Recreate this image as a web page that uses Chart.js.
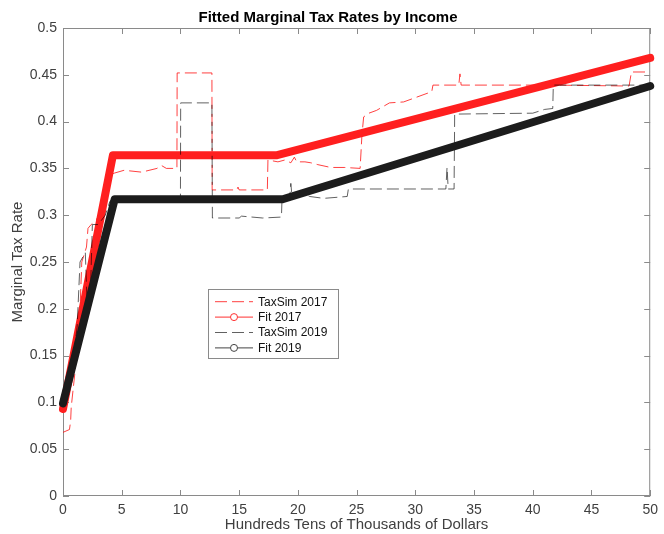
<!DOCTYPE html>
<html>
<head>
<meta charset="utf-8">
<script src="https://cdn.jsdelivr.net/npm/chart.js@4/dist/chart.umd.min.js"></script>
<style>
  html, body { margin: 0; padding: 0; background: #fff; }
  #wrap { width: 664px; height: 534px; position: relative; }
</style>
</head>
<body>
<div id="wrap"><canvas id="taxChart"></canvas></div>
<script>
// ── data ─────────────────────────────────────────────────────────────────────

var xTickValues = [0, 5, 10, 15, 20, 25, 30, 35, 40, 45, 50];
var xTickLabels = ["0", "5", "10", "15", "20", "25", "30", "35", "40", "45", "50"];
var yTickValues = [0, 0.05, 0.1, 0.15, 0.2, 0.25, 0.3, 0.35, 0.4, 0.45, 0.5];
var yTickLabels = ["0", "0.05", "0.1", "0.15", "0.2", "0.25", "0.3", "0.35", "0.4", "0.45", "0.5"];

var taxsim2017X = [0, 0.55, 0.65, 0.7, 1.0, 1.3, 1.45, 1.6, 2.0, 2.13, 2.4, 2.84, 3.26, 3.54, 3.82, 3.96, 4.38, 5.2,
                   6.7, 8.0, 8.4, 8.8, 9.7, 9.72, 12.68, 12.7, 14.8, 14.9, 15.0, 17.4, 17.45, 18.3, 18.9, 19.4,
                   19.7, 19.9, 20.6, 21.1, 21.7, 22.8, 24.0, 25.3, 25.45, 25.6, 26.05, 26.7, 27.8, 29.0, 31.4,
                   31.5, 33.7, 33.8, 33.9, 41.8, 48.2, 48.4, 50];
var taxsim2017Y = [0.068, 0.071, 0.08, 0.095, 0.13, 0.17, 0.2, 0.25, 0.266, 0.286, 0.29, 0.295, 0.306, 0.316, 0.334, 0.343, 0.345, 0.348,
                   0.346, 0.350, 0.353, 0.350, 0.350, 0.452, 0.452, 0.327, 0.327, 0.330, 0.327, 0.327, 0.359, 0.357, 0.359, 0.356,
                   0.362, 0.357, 0.357, 0.356, 0.354, 0.351, 0.351, 0.350, 0.385, 0.405, 0.409, 0.412, 0.420, 0.421, 0.432,
                   0.439, 0.439, 0.451, 0.439, 0.439, 0.438, 0.453, 0.453];

var fit2017X = [0, 4.25, 18.15, 50];
var fit2017Y = [0.093, 0.364, 0.364, 0.468];

var taxsim2019X = [0, 0.6, 1.2, 1.45, 1.9, 2.1, 2.3, 2.5, 3.0, 3.6, 4.0, 4.4, 10.0, 10.02, 12.68, 12.72, 15.0, 15.2,
                   17.0, 18.6, 18.65, 19.3, 19.4, 19.5, 20.5, 21.0, 22.2, 24.2, 24.3, 32.6, 32.7, 32.8, 33.3,
                   33.35, 40.0, 41.0, 41.7, 41.75, 50];
var taxsim2019Y = [0.1, 0.12, 0.18, 0.25, 0.26, 0.19, 0.2, 0.29, 0.29, 0.3, 0.315, 0.32, 0.32, 0.42, 0.42, 0.297, 0.297, 0.299,
                   0.297, 0.298, 0.318, 0.318, 0.334, 0.32, 0.323, 0.32, 0.318, 0.320, 0.328, 0.328, 0.351, 0.328, 0.328,
                   0.408, 0.409, 0.413, 0.414, 0.439, 0.439];

var fit2019X = [0, 4.4, 18.7, 50];
var fit2019Y = [0.099, 0.317, 0.317, 0.438];

// ── styles ───────────────────────────────────────────────────────────────────

var FONT = "'Liberation Sans', Arial, Helvetica, sans-serif";
var TEXT_COLOR = "#404040";
var AXIS_COLOR = "#8a8a8a";

function toPoints(xs, ys) {
  return xs.map(function(x, i) { return { x: x, y: ys[i] }; });
}

// 프레임 + 안쪽 눈금 (MATLAB box on)
var frameAndTicks = {
  id: "frameAndTicks",
  beforeDatasetsDraw: function(chart) {
    var a = chart.chartArea, ctx = chart.ctx;
    var sx = chart.scales.x, sy = chart.scales.y;
    var len = 6;
    ctx.save();
    ctx.strokeStyle = AXIS_COLOR;
    ctx.lineWidth = 1;
    ctx.strokeRect(a.left + 0.5, a.top + 0.5, a.right - a.left - 1, a.bottom - a.top - 1);
    ctx.beginPath();
    sx.ticks.forEach(function(t) {
      var px = Math.round(sx.getPixelForValue(t.value)) + 0.5;
      ctx.moveTo(px, a.bottom); ctx.lineTo(px, a.bottom - len);
      ctx.moveTo(px, a.top); ctx.lineTo(px, a.top + len);
    });
    sy.ticks.forEach(function(t) {
      var py = Math.round(sy.getPixelForValue(t.value)) + 0.5;
      ctx.moveTo(a.left, py); ctx.lineTo(a.left + len, py);
      ctx.moveTo(a.right, py); ctx.lineTo(a.right - len, py);
    });
    ctx.stroke();
    ctx.restore();
  },
};

// 범례 (plot 안쪽 박스)
var boxLegend = {
  id: "boxLegend",
  afterDatasetsDraw: function(chart) {
    var a = chart.chartArea, ctx = chart.ctx;
    var bx = a.left + 145, by = a.top + 261, bw = 130, bh = 69;
    var rowH = 15.4;
    ctx.save();
    ctx.fillStyle = "#fff";
    ctx.fillRect(bx, by, bw, bh);
    ctx.strokeStyle = AXIS_COLOR;
    ctx.lineWidth = 1;
    ctx.strokeRect(bx + 0.5, by + 0.5, bw, bh);
    chart.data.datasets.forEach(function(ds, i) {
      var y = by + 12.7 + i * rowH;
      var x0 = bx + 7, x1 = bx + 45;
      ctx.strokeStyle = ds.legendColor;
      ctx.lineWidth = 1;
      ctx.setLineDash(ds.borderDash || []);
      ctx.beginPath(); ctx.moveTo(x0, y); ctx.lineTo(x1, y); ctx.stroke();
      ctx.setLineDash([]);
      if (ds.legendMarker) {
        ctx.fillStyle = "#fff";
        ctx.beginPath(); ctx.arc((x0 + x1) / 2, y, 3.5, 0, Math.PI * 2); ctx.fill(); ctx.stroke();
      }
      ctx.fillStyle = "#111";
      ctx.font = "12px " + FONT;
      ctx.textAlign = "left";
      ctx.textBaseline = "middle";
      ctx.fillText(ds.label, bx + 50, y + 0.5);
    });
    ctx.restore();
  },
};

new Chart(document.getElementById("taxChart").getContext("2d"), {
  type: "scatter",
  data: {
    datasets: [
      {
        label: "TaxSim 2017",
        data: toPoints(taxsim2017X, taxsim2017Y),
        showLine: true, pointRadius: 0,
        borderColor: "rgba(255,0,0,0.75)", legendColor: "rgba(255,0,0,0.75)",
        borderWidth: 1, borderDash: [12, 5],
        order: 4,
      },
      {
        label: "Fit 2017",
        data: toPoints(fit2017X, fit2017Y),
        showLine: true, pointRadius: 0,
        borderColor: "#ff1f1f", legendColor: "#ff3030", legendMarker: true,
        borderWidth: 8, borderCapStyle: "round", borderJoinStyle: "round",
        clip: false, order: 3,
      },
      {
        label: "TaxSim 2019",
        data: toPoints(taxsim2019X, taxsim2019Y),
        showLine: true, pointRadius: 0,
        borderColor: "rgba(0,0,0,0.62)", legendColor: "rgba(0,0,0,0.62)",
        borderWidth: 1, borderDash: [12, 5],
        order: 2,
      },
      {
        label: "Fit 2019",
        data: toPoints(fit2019X, fit2019Y),
        showLine: true, pointRadius: 0,
        borderColor: "#1c1c1c", legendColor: "#444444", legendMarker: true,
        borderWidth: 8, borderCapStyle: "round", borderJoinStyle: "round",
        clip: false, order: 1,
      },
    ],
  },
  options: {
    responsive: true, maintainAspectRatio: false, animation: false,
    layout: { padding: { top: 0, right: 8, left: 0, bottom: 0 } },
    plugins: {
      legend: { display: false },
      tooltip: { enabled: false },
      title: {
        display: true, text: "Fitted Marginal Tax Rates by Income",
        color: "#000", font: { family: FONT, size: 15, weight: "bold" },
        padding: { top: 9, bottom: 1 },
      },
    },
    scales: {
      x: {
        type: "linear", min: 0, max: 50,
        afterBuildTicks: function(s) { s.ticks = xTickValues.map(function(v) { return { value: v }; }); },
        afterFit: function(s) { s.height = 38; },
        grid: { display: false, drawTicks: false },
        border: { display: false },
        ticks: {
          padding: 6, color: TEXT_COLOR, font: { family: FONT, size: 14 }, maxRotation: 0,
          callback: function(v, i) { return xTickLabels[i]; },
        },
        title: {
          display: true, text: "Hundreds Tens of Thousands of Dollars",
          color: TEXT_COLOR, font: { family: FONT, size: 15 }, padding: { top: 0, bottom: 0 },
        },
      },
      y: {
        type: "linear", min: 0, max: 0.5,
        afterBuildTicks: function(s) { s.ticks = yTickValues.map(function(v) { return { value: v }; }); },
        afterFit: function(s) { s.width = 63; },
        grid: { display: false, drawTicks: false },
        border: { display: false },
        ticks: {
          padding: 6, color: TEXT_COLOR, font: { family: FONT, size: 14 },
          callback: function(v, i) { return yTickLabels[i]; },
        },
        title: {
          display: true, text: "Marginal Tax Rate",
          color: TEXT_COLOR, font: { family: FONT, size: 15 }, padding: { top: 9, bottom: 0 },
        },
      },
    },
  },
  plugins: [frameAndTicks, boxLegend],
});
</script>
</body>
</html>
